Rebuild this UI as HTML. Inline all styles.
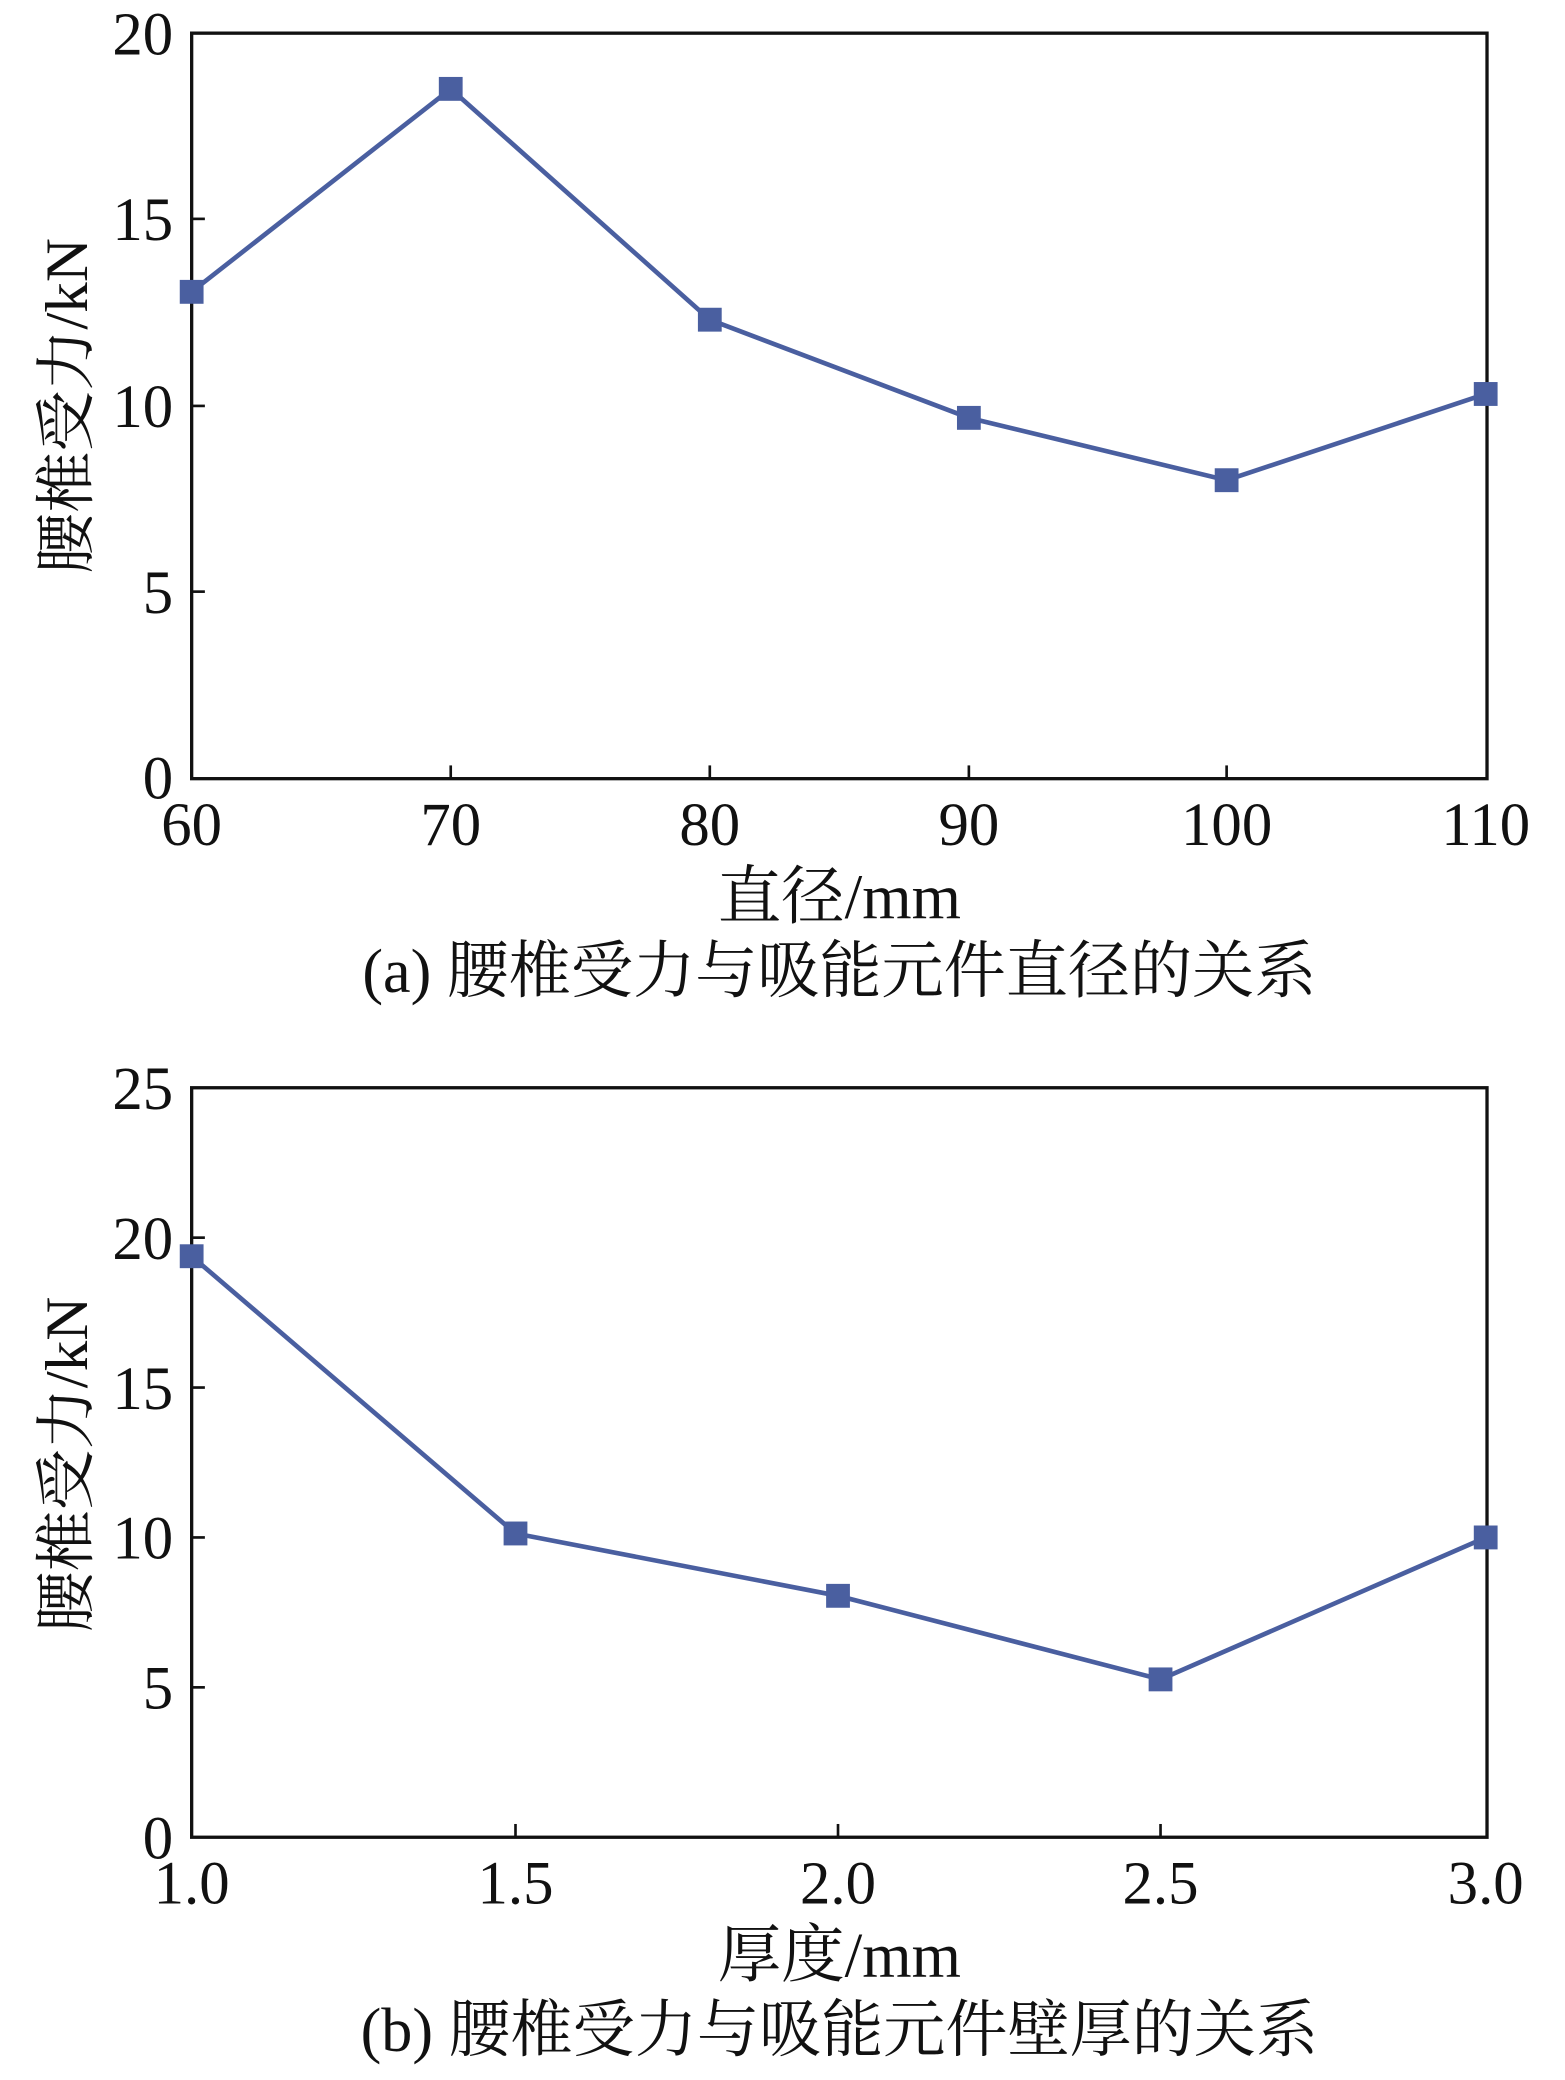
<!DOCTYPE html>
<html><head><meta charset="utf-8"><style>html,body{margin:0;padding:0;background:#fff}svg{display:block}</style></head>
<body>
<svg width="1565" height="2080" viewBox="0 0 1184 1568" preserveAspectRatio="none" xmlns="http://www.w3.org/2000/svg" font-family="'Liberation Serif','Noto Serif CJK SC',serif" fill="#111">
<rect width="1184" height="1568" fill="#fff"/>
<!-- Chart A -->
<rect x="145" y="25" width="980" height="562" fill="none" stroke="#111" stroke-width="2.5"/>
<g stroke="#111" stroke-width="2">
<line x1="341" y1="587" x2="341" y2="577"/><line x1="537" y1="587" x2="537" y2="577"/><line x1="733" y1="587" x2="733" y2="577"/><line x1="928" y1="587" x2="928" y2="577"/>
<line x1="145" y1="446" x2="155" y2="446"/><line x1="145" y1="306" x2="155" y2="306"/><line x1="145" y1="165" x2="155" y2="165"/>
</g>
<g font-size="46" text-anchor="end">
<text x="131" y="602">0</text><text x="131" y="462">5</text><text x="131" y="322">10</text><text x="131" y="181">15</text><text x="131" y="41">20</text>
</g>
<g font-size="46" text-anchor="middle">
<text x="145" y="637">60</text><text x="341" y="637">70</text><text x="537" y="637">80</text><text x="733" y="637">90</text><text x="928" y="637">100</text><text x="1124" y="637">110</text>
</g>
<text x="635" y="692" font-size="48" text-anchor="middle">直径/mm</text>
<text x="635" y="748" font-size="47" text-anchor="middle">(a) 腰椎受力与吸能元件直径的关系</text>
<text transform="translate(66,306) rotate(-90)" font-size="46" text-anchor="middle">腰椎受力/kN</text>
<polyline points="145,220 341,67 537,241 733,315 928,362 1124,297" fill="none" stroke="#4a5fa0" stroke-width="3.5"/>
<g fill="#4a5fa0">
<rect x="136" y="211" width="18" height="18"/><rect x="332" y="58" width="18" height="18"/><rect x="528" y="232" width="18" height="18"/><rect x="724" y="306" width="18" height="18"/><rect x="919" y="353" width="18" height="18"/><rect x="1115" y="288" width="18" height="18"/>
</g>
<!-- Chart B -->
<rect x="145" y="820" width="980" height="565" fill="none" stroke="#111" stroke-width="2.5"/>
<g stroke="#111" stroke-width="2">
<line x1="390" y1="1385" x2="390" y2="1375"/><line x1="634" y1="1385" x2="634" y2="1375"/><line x1="878" y1="1385" x2="878" y2="1375"/>
<line x1="145" y1="1272" x2="155" y2="1272"/><line x1="145" y1="1159" x2="155" y2="1159"/><line x1="145" y1="1046" x2="155" y2="1046"/><line x1="145" y1="933" x2="155" y2="933"/>
</g>
<g font-size="46" text-anchor="end">
<text x="131" y="1401">0</text><text x="131" y="1288">5</text><text x="131" y="1175">10</text><text x="131" y="1062">15</text><text x="131" y="949">20</text><text x="131" y="836">25</text>
</g>
<g font-size="46" text-anchor="middle">
<text x="145" y="1435">1.0</text><text x="390" y="1435">1.5</text><text x="634" y="1435">2.0</text><text x="878" y="1435">2.5</text><text x="1124" y="1435">3.0</text>
</g>
<text x="635" y="1490" font-size="48" text-anchor="middle">厚度/mm</text>
<text x="635" y="1546" font-size="47" text-anchor="middle">(b) 腰椎受力与吸能元件壁厚的关系</text>
<text transform="translate(66,1104) rotate(-90)" font-size="46" text-anchor="middle">腰椎受力/kN</text>
<polyline points="145,947 390,1156 634,1203 878,1266 1124,1159" fill="none" stroke="#4a5fa0" stroke-width="3.5"/>
<g fill="#4a5fa0">
<rect x="136" y="938" width="18" height="18"/><rect x="381" y="1147" width="18" height="18"/><rect x="625" y="1194" width="18" height="18"/><rect x="869" y="1257" width="18" height="18"/><rect x="1115" y="1150" width="18" height="18"/>
</g>
</svg>
</body></html>
